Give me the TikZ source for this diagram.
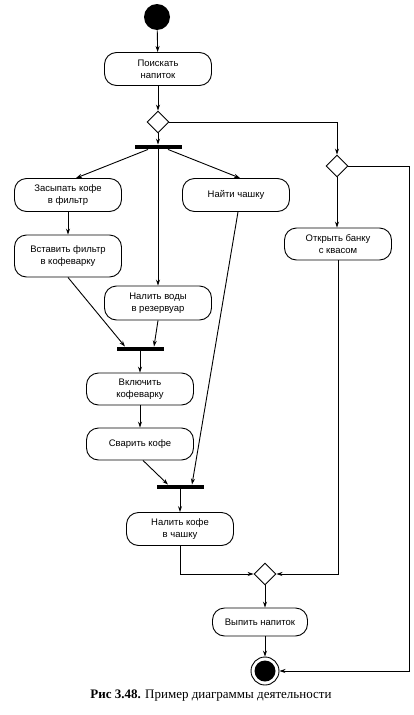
\documentclass[tikz,border=0pt]{standalone}
\usepackage{fontspec}
\setmainfont{Liberation Serif}
\newfontfamily\boxfont{Liberation Sans}
\usetikzlibrary{shapes.geometric,arrows.meta}
\begin{document}
\begin{tikzpicture}[x=1pt,y=-1pt,
  every path/.style={line width=0.9pt},
  act/.style={draw, rounded corners=12pt, align=center, inner sep=0pt,
    font=\boxfont\fontsize{9.5}{12}\selectfont, minimum width=107pt, minimum height=33pt},
  dec/.style={draw, diamond, aspect=1, minimum width=22pt, minimum height=22pt, inner sep=0pt},
  bar/.style={fill=black, draw=none, minimum width=47pt, minimum height=4pt, inner sep=0pt},
  arr/.style={-{Stealth[length=6pt,width=4pt]}},
  ]
\useasboundingbox (0,0) rectangle (414,715);
\node[circle, fill=black, minimum size=26pt, inner sep=0pt] (start) at (157,17) {};
\node[act] (n1) at (158,69) {Поискать\\напиток};
\node[dec] (d1) at (158,122) {};
\node[bar] (fork1) at (158,147) {};
\node[dec] (d2) at (337,166) {};
\node[act] (a1) at (68,195) {Засыпать кофе\\в фильтр};
\node[act, minimum height=42pt] (a2) at (68,256) {Вставить фильтр\\в кофеварку};
\node[act] (a3) at (236,195) {Найти чашку};
\node[act, minimum height=34pt] (a4) at (158,303) {Налить воды\\в резервуар};
\node[act, minimum height=32pt] (a5) at (338,244) {Открыть банку\\с квасом};
\node[bar] (j2) at (140,349) {};
\node[act, minimum height=32pt] (a6) at (140,389) {Включить\\кофеварку};
\node[act, minimum height=32pt] (a7) at (140,444) {Сварить кофе};
\node[bar] (j3) at (180,487) {};
\node[act] (a8) at (180,529) {Налить кофе\\в чашку};
\node[dec] (d3) at (265,574) {};
\node[act, minimum width=95pt, minimum height=28pt] (a9) at (260,622) {Выпить напиток};
\node[circle, draw, line width=0.9pt, minimum size=28pt, inner sep=0pt] (end) at (265,671) {};
\fill (end.center) circle (10.5pt);
\coordinate (rtop) at (409,166);
\coordinate (rbot) at (409,671);

\draw[arr] (start) -- (n1);
\draw[arr] (n1) -- (d1);
\draw[arr] (d1) -- (fork1);
\draw[arr] ([xshift=-10pt]fork1.south) -- ([xshift=8pt]a1.north);
\draw[arr] (fork1.south) -- (a4.north);
\draw[arr] ([xshift=10pt]fork1.south) -- ([xshift=4pt]a3.north);
\draw[arr] (d1.east) -| (d2.north);
\draw[arr] (d2.south) -- (d2 |- a5.north);
\draw[arr] (d2.east) -- (rtop) -- (rbot) -- (end.east);
\draw[arr] (a1) -- (a2);
\draw[arr] (a2.south) -- ([xshift=-15pt]j2.north);
\draw[arr] (a4.south) -- ([xshift=14pt]j2.north);
\draw[arr] (j2) -- (a6);
\draw[arr] (a6) -- (a7);
\draw[arr] ([xshift=3pt]a7.south) -- ([xshift=-12pt]j3.north);
\draw[arr] ([xshift=2pt]a3.south) -- ([xshift=12pt]j3.north);
\draw[arr] (j3) -- (a8);
\draw[arr] (a8.south) |- (d3.west);
\draw[arr] (a5.south) |- (d3.east);
\draw[arr] (d3.south) -- (d3 |- a9.north);
\draw[arr] (d3 |- a9.south) -- (end.north);
\node[font=\fontsize{13}{15}\selectfont] (cap) at (211,696) {\textbf{Рис 3.48.} Пример диаграммы деятельности};
\end{tikzpicture}
\end{document}
